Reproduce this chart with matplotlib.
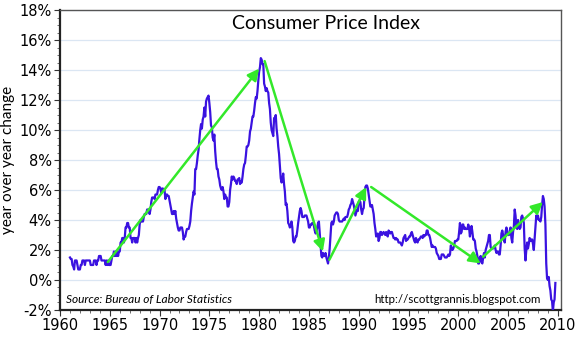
import matplotlib
matplotlib.use("Agg")
import matplotlib.pyplot as plt
from matplotlib.ticker import MultipleLocator, FuncFormatter

plt.rcParams['font.family'] = ['Lato', 'DejaVu Sans']

# CPI year-over-year change (%), monthly
cpi_by_year = {
    1961: [1.5, 1.4, 1.4, 1.0, 0.9, 0.7, 1.3, 1.3, 1.3, 1.0, 0.7, 0.7],
    1962: [0.7, 1.0, 1.0, 1.3, 1.3, 1.3, 1.0, 1.3, 1.3, 1.3, 1.3, 1.3],
    1963: [1.3, 1.0, 1.0, 1.0, 1.0, 1.3, 1.3, 1.3, 1.0, 1.3, 1.3, 1.6],
    1964: [1.6, 1.6, 1.3, 1.3, 1.3, 1.3, 1.3, 1.0, 1.3, 1.0, 1.3, 1.0],
    1965: [1.0, 1.0, 1.3, 1.6, 1.6, 1.9, 1.6, 1.9, 1.6, 1.9, 1.6, 1.9],
    1966: [1.9, 2.5, 2.5, 2.8, 2.8, 2.5, 2.8, 3.5, 3.5, 3.8, 3.8, 3.5],
    1967: [3.5, 2.8, 2.8, 2.5, 2.8, 2.8, 2.8, 2.5, 2.8, 2.5, 2.8, 3.0],
    1968: [3.7, 4.0, 3.9, 3.9, 3.9, 4.2, 4.4, 4.4, 4.4, 4.7, 4.7, 4.7],
    1969: [4.4, 4.7, 5.2, 5.5, 5.5, 5.5, 5.4, 5.7, 5.7, 5.7, 6.0, 6.2],
    1970: [6.2, 6.1, 5.8, 6.1, 6.1, 6.0, 6.0, 5.4, 5.7, 5.7, 5.6, 5.6],
    1971: [5.3, 5.0, 4.7, 4.4, 4.4, 4.6, 4.4, 4.6, 4.1, 3.8, 3.5, 3.3],
    1972: [3.3, 3.5, 3.5, 3.5, 3.2, 2.7, 2.9, 2.9, 3.2, 3.4, 3.4, 3.4],
    1973: [3.6, 3.9, 4.6, 5.1, 5.5, 5.9, 5.7, 7.4, 7.4, 7.8, 8.3, 8.7],
    1974: [9.4, 10.0, 10.4, 10.1, 10.7, 10.9, 11.5, 10.9, 11.9, 12.1, 12.2, 12.3],
    1975: [11.8, 11.2, 10.3, 10.2, 9.5, 9.3, 9.7, 8.6, 7.9, 7.4, 7.4, 6.9],
    1976: [6.7, 6.3, 6.1, 6.0, 6.2, 5.9, 5.4, 5.7, 5.5, 5.5, 4.9, 4.9],
    1977: [5.2, 6.0, 6.4, 6.9, 6.7, 6.9, 6.8, 6.6, 6.6, 6.4, 6.7, 6.7],
    1978: [6.8, 6.4, 6.6, 6.5, 6.9, 7.4, 7.7, 7.8, 8.3, 8.9, 8.9, 9.0],
    1979: [9.3, 9.9, 10.1, 10.5, 10.9, 10.9, 11.3, 11.8, 12.2, 12.1, 12.6, 13.3],
    1980: [13.9, 14.2, 14.8, 14.7, 14.4, 14.4, 13.1, 12.9, 12.6, 12.8, 12.6, 12.5],
    1981: [11.8, 11.4, 10.5, 10.0, 9.8, 9.6, 10.8, 10.8, 11.0, 10.1, 9.6, 8.9],
    1982: [8.4, 7.6, 6.8, 6.5, 6.7, 7.1, 6.4, 5.9, 5.0, 5.1, 4.6, 3.8],
    1983: [3.7, 3.5, 3.6, 3.9, 3.5, 2.6, 2.5, 2.6, 2.9, 2.9, 3.3, 3.8],
    1984: [4.2, 4.6, 4.8, 4.6, 4.2, 4.2, 4.2, 4.3, 4.3, 4.3, 4.1, 3.9],
    1985: [3.5, 3.5, 3.7, 3.7, 3.8, 3.8, 3.6, 3.3, 3.1, 3.2, 3.5, 3.8],
    1986: [3.9, 3.1, 2.2, 1.6, 1.5, 1.8, 1.6, 1.6, 1.8, 1.5, 1.3, 1.1],
    1987: [1.5, 2.1, 3.0, 3.8, 3.9, 3.7, 3.9, 4.3, 4.4, 4.5, 4.5, 4.4],
    1988: [4.0, 3.9, 3.9, 3.9, 3.9, 4.0, 4.1, 4.0, 4.2, 4.2, 4.2, 4.4],
    1989: [4.7, 4.8, 5.0, 5.1, 5.4, 5.2, 5.0, 4.7, 4.3, 4.5, 4.7, 4.6],
    1990: [5.2, 5.3, 5.2, 4.7, 4.4, 4.7, 4.8, 5.6, 6.2, 6.3, 6.3, 6.1],
    1991: [5.7, 5.3, 4.9, 4.9, 5.0, 4.7, 4.4, 3.8, 3.4, 2.9, 3.0, 3.1],
    1992: [2.6, 2.8, 3.2, 3.2, 3.0, 3.1, 3.2, 3.1, 3.0, 3.2, 3.0, 2.9],
    1993: [3.3, 3.2, 3.1, 3.2, 3.2, 3.0, 2.8, 2.8, 2.7, 2.8, 2.7, 2.7],
    1994: [2.5, 2.5, 2.5, 2.4, 2.3, 2.5, 2.8, 2.9, 3.0, 2.6, 2.7, 2.7],
    1995: [2.8, 2.9, 2.9, 3.1, 3.2, 3.0, 2.8, 2.6, 2.5, 2.8, 2.6, 2.5],
    1996: [2.7, 2.7, 2.8, 2.9, 2.9, 2.8, 3.0, 2.9, 3.0, 3.0, 3.3, 3.3],
    1997: [3.0, 3.0, 2.8, 2.5, 2.2, 2.3, 2.2, 2.2, 2.2, 2.1, 1.8, 1.7],
    1998: [1.6, 1.4, 1.4, 1.4, 1.7, 1.7, 1.7, 1.6, 1.5, 1.5, 1.5, 1.6],
    1999: [1.7, 1.6, 1.7, 2.3, 2.1, 2.0, 2.1, 2.3, 2.6, 2.6, 2.6, 2.7],
    2000: [2.7, 3.2, 3.8, 3.1, 3.2, 3.7, 3.7, 3.4, 3.5, 3.4, 3.4, 3.4],
    2001: [3.7, 3.5, 2.9, 3.3, 3.6, 3.2, 2.7, 2.7, 2.6, 2.1, 1.9, 1.6],
    2002: [1.1, 1.1, 1.5, 1.6, 1.2, 1.1, 1.5, 1.8, 1.5, 2.0, 2.2, 2.4],
    2003: [2.6, 3.0, 3.0, 2.2, 2.1, 2.1, 2.1, 2.2, 2.3, 2.0, 1.8, 1.9],
    2004: [1.9, 1.7, 1.7, 2.3, 3.1, 3.3, 3.0, 2.7, 2.5, 3.2, 3.5, 3.3],
    2005: [3.0, 3.0, 3.1, 3.5, 2.8, 2.5, 3.2, 3.6, 4.7, 4.3, 3.5, 3.4],
    2006: [4.0, 3.6, 3.4, 3.5, 4.2, 4.3, 4.1, 3.8, 2.1, 1.3, 2.0, 2.5],
    2007: [2.1, 2.4, 2.8, 2.6, 2.7, 2.7, 2.4, 2.0, 2.8, 3.5, 4.3, 4.1],
    2008: [4.3, 4.0, 4.0, 3.9, 4.2, 5.0, 5.6, 5.4, 4.9, 3.7, 1.1, 0.1],
    2009: [0.0, 0.2, -0.4, -0.7, -1.3, -1.4, -2.1, -1.5, -1.3, -0.2],
}

# trend arrows: (start year, start %, end year, end %)
arrow_x0 = [1964.8, 1980.55, 1987.05, 1991.25, 2002.5]
arrow_y0 = [1.2, 14.6, 1.35, 6.2, 1.55]
arrow_x1 = [1980.0, 1986.4, 1990.75, 2002.25, 2008.5]
arrow_y1 = [14.1, 1.9, 6.2, 1.1, 5.2]

dates = []
values = []
for yr, vals in cpi_by_year.items():
    for m, v in enumerate(vals):
        dates.append(yr + m / 12.0)
        values.append(v)

fig = plt.figure(figsize=(5.77, 3.38), dpi=100)
ax = fig.add_axes([0.104, 0.083, 0.868, 0.887])

ax.grid(axis='y', color='#dbe6f3', linewidth=0.9)
ax.set_axisbelow(True)

ax.plot(dates, values, color='#3a12e0', linewidth=1.6, zorder=3)

for x0, y0, x1, y1 in zip(arrow_x0, arrow_y0, arrow_x1, arrow_y1):
    ax.annotate('', xy=(x1, y1), xytext=(x0, y0),
                arrowprops=dict(arrowstyle='-|>', color='#33e82a', lw=1.8,
                                mutation_scale=17, shrinkA=0, shrinkB=0),
                zorder=4)

ax.set_xlim(1960, 2010.3)
ax.set_ylim(-2, 18)
ax.xaxis.set_major_locator(MultipleLocator(5))
ax.xaxis.set_minor_locator(MultipleLocator(1))
ax.yaxis.set_major_locator(MultipleLocator(2))
ax.yaxis.set_minor_locator(MultipleLocator(0.5))
ax.yaxis.set_major_formatter(FuncFormatter(lambda v, p: f'{v:.0f}%'))

ax.tick_params(axis='both', which='major', labelsize=10.5, length=4, width=0.8, color='#333333')
ax.tick_params(axis='both', which='minor', length=2.5, width=0.6, color='#555555')
ax.tick_params(axis='x', pad=2)
ax.tick_params(axis='y', pad=2)
for lbl in ax.get_xticklabels() + ax.get_yticklabels():
    lbl.set_family('DejaVu Sans')

for s in ['left', 'bottom']:
    ax.spines[s].set_color('#222222')
    ax.spines[s].set_linewidth(1.6)
for s in ['top', 'right']:
    ax.spines[s].set_color('#555555')
    ax.spines[s].set_linewidth(1.0)

ax.set_ylabel('year over year change', fontsize=11, labelpad=3)

ax.text(1986.7, 17.1, 'Consumer Price Index', ha='center', va='center', fontsize=14)
ax.text(1960.6, -1.3, 'Source: Bureau of Labor Statistics', ha='left', va='center',
        fontsize=8.6, style='italic')
ax.text(2008.3, -1.3, 'http://scottgrannis.blogspot.com', ha='right', va='center',
        fontsize=8.3)

fig.savefig('out.png', dpi=100, facecolor='white')
